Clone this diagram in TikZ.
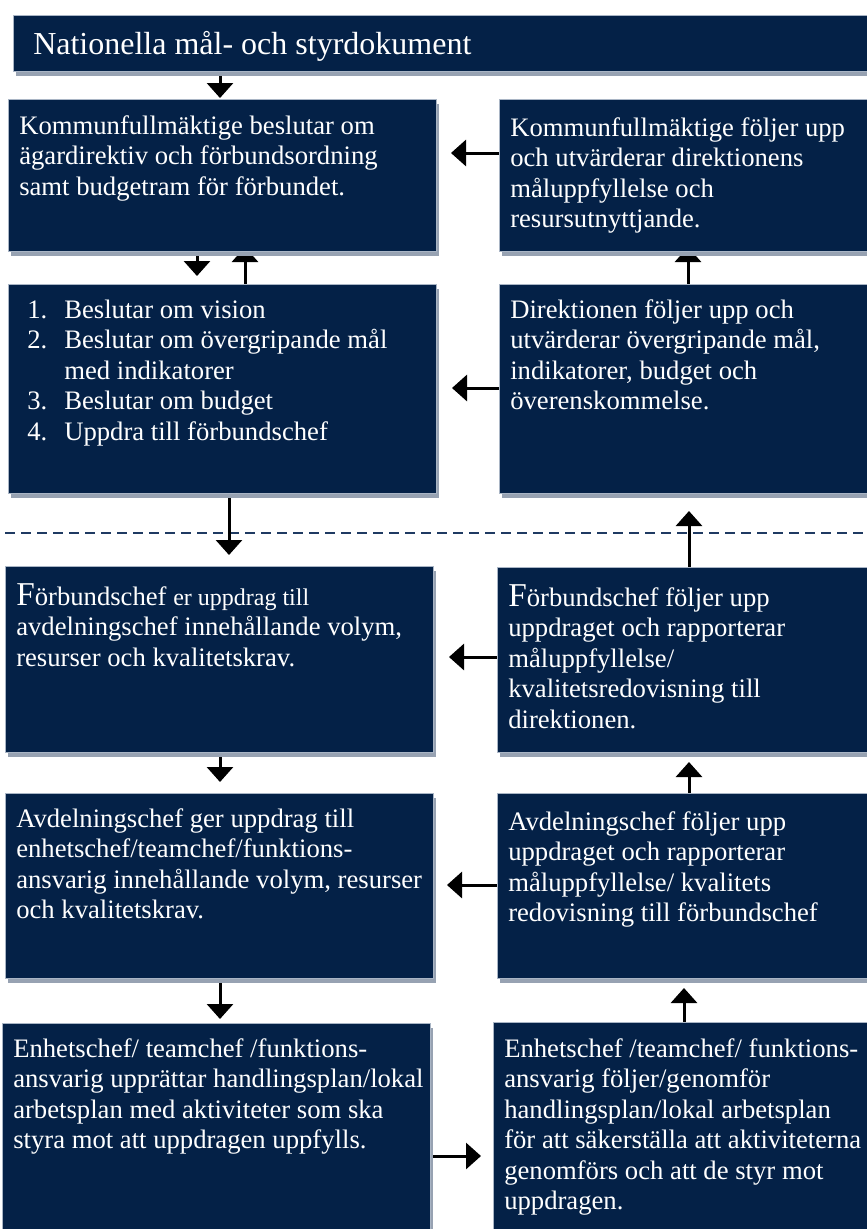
\documentclass[tikz,border=0pt]{standalone}
\usepackage{fontspec}
\setmainfont{Liberation Serif}
\usetikzlibrary{arrows.meta,shadows,calc,backgrounds}
\newlength\pu \setlength\pu{0.75pt}
\definecolor{navy}{HTML}{042147}
\definecolor{shad}{HTML}{97A2B2}
\definecolor{edgec}{HTML}{A9B5C5}
\definecolor{dashc}{HTML}{1F3A62}
\newcommand\ml[1]{\begin{tabular}[t]{@{}l@{}}#1\end{tabular}}
\begin{document}
\begin{tikzpicture}[x=0.75pt,y=-0.75pt,
 box/.style={anchor=north west, fill=navy, draw=edgec, line width=0.6pt, inner sep=0pt, outer sep=0pt,
   drop shadow={shadow xshift=2.25pt, shadow yshift=-4pt, fill=shad, opacity=1}},
 txt/.style={anchor=base west, text=white, inner sep=0pt, font=\fontsize{20}{22.9}\selectfont},
 arr/.style={line width=2.25pt, -{Triangle[width=19.5pt,length=11.25pt]}},
]
\useasboundingbox (0,0) rectangle (867,1229);
% boxes
\node[box, minimum width=880\pu, minimum height=56\pu] (B) at (13,15) {};
\node[box, minimum width=428\pu, minimum height=152\pu] (L1) at (8,99) {};
\node[box, minimum width=400\pu, minimum height=152\pu] (R1) at (499,99) {};
\node[box, minimum width=428\pu, minimum height=209\pu] (L2) at (8,284) {};
\node[box, minimum width=400\pu, minimum height=209\pu] (R2) at (499,284) {};
\node[box, minimum width=428\pu, minimum height=186\pu] (L3) at (5,566) {};
\node[box, minimum width=400\pu, minimum height=185\pu] (R3) at (497,567) {};
\node[box, minimum width=428\pu, minimum height=185\pu] (L4) at (5,793) {};
\node[box, minimum width=400\pu, minimum height=185\pu] (R4) at (497,793) {};
\node[box, minimum width=428\pu, minimum height=230\pu] (L5) at (2,1023) {};
\node[box, minimum width=400\pu, minimum height=230\pu] (R5) at (493,1022) {};
% texts
\node[txt, font=\fontsize{24}{28}\selectfont] (Bt) at (33,54) {Nationella mål- och styrdokument};
\node[txt] (L1t) at (19,134) {\ml{Kommunfullmäktige beslutar om\\ägardirektiv och förbundsordning\\samt budgetram för förbundet.}};
\node[txt] (R1t) at (510,136) {\ml{Kommunfullmäktige följer upp\\och utvärderar direktionens\\måluppfyllelse och\\resursutnyttjande.}};
\node[txt] (L2n) at (27,318) {\ml{1.\\2.\\ \\3.\\4.}};
\node[txt] (L2t) at (64,318) {\ml{Beslutar om vision\\Beslutar om övergripande mål\\med indikatorer\\Beslutar om budget\\Uppdra till förbundschef}};
\node[txt] (R2t) at (510,318) {\ml{Direktionen följer upp och\\utvärderar övergripande mål,\\indikatorer, budget och\\överenskommelse.}};
\node[txt] (L3t) at (16,605) {\ml{{\fontsize{25}{22.9}\selectfont F}örbundschef {\fontsize{18}{22.9}\selectfont er uppdrag till}\\avdelningschef innehållande volym,\\resurser och kvalitetskrav.}};
\node[txt] (R3t) at (508,606) {\ml{{\fontsize{25}{22.9}\selectfont F}örbundschef följer upp\\uppdraget och rapporterar\\måluppfyllelse/\\kvalitetsredovisning till\\direktionen.}};
\node[txt] (L4t) at (16,827) {\ml{Avdelningschef ger uppdrag till\\enhetschef/teamchef/funktions-\\ansvarig innehållande volym, resurser\\och kvalitetskrav.}};
\node[txt] (R4t) at (508,830) {\ml{Avdelningschef följer upp\\uppdraget och rapporterar\\måluppfyllelse/ kvalitets\\redovisning till förbundschef}};
\node[txt] (L5t) at (13,1057) {\ml{Enhetschef/ teamchef /funktions-\\ansvarig upprättar handlingsplan/lokal\\arbetsplan med aktiviteter som ska\\styra mot att uppdragen uppfylls.}};
\node[txt] (R5t) at (504,1057) {\ml{Enhetschef /teamchef/ funktions-\\ansvarig följer/genomför\\handlingsplan/lokal arbetsplan\\för att säkerställa att aktiviteterna\\genomförs och att de styr mot\\uppdragen.}};
% background: dashed line and arrows
\begin{pgfonlayer}{background}
\fill[white] (0,0) rectangle (867,1229);
\draw[dashc, line width=1.1pt, dash pattern=on 7.5pt off 4.5pt] (5,533) -- (867,533);
\draw[arr] ($(B.south west)+(207,0)$) -- ($(L1.north west)+(212,-1)$);
\draw[arr] ($(L1.south west)+(189,0)$) -- ($(L2.north west)+(189,-8)$);
\draw[arr] ($(L2.north west)+(237,0)$) -- ($(L1.south west)+(237,-4)$);
\draw[arr] ($(R2.north west)+(189,0)$) -- ($(R1.south west)+(189,-4)$);
\draw[arr] ($(R1.north west)+(0,54)$) -- ($(L1.north east)+(15,54)$);
\draw[arr] ($(R2.north west)+(0,104)$) -- ($(L2.north east)+(16,104)$);
\draw[arr] ($(L2.south west)+(221,0)$) -- ($(L3.north west)+(224,-11)$);
\draw[arr] ($(R3.north west)+(192,0)$) -- ($(R2.south west)+(190,18)$);
\draw[arr] ($(R3.north west)+(0,90)$) -- ($(L3.north east)+(16,91)$);
\draw[arr] ($(L3.south west)+(215,0)$) -- ($(L4.north west)+(215,-11)$);
\draw[arr] ($(R4.north west)+(192,0)$) -- ($(R3.south west)+(192,10)$);
\draw[arr] ($(R4.north west)+(0,92)$) -- ($(L4.north east)+(14,92)$);
\draw[arr] ($(L4.south west)+(215,0)$) -- ($(L5.north west)+(218,-4)$);
\draw[arr] ($(R5.north west)+(191,0)$) -- ($(R4.south west)+(187,10)$);
\draw[arr] ($(L5.north east)+(0,133)$) -- ($(R5.north west)+(-12,134)$);
\end{pgfonlayer}
\end{tikzpicture}
\end{document}
